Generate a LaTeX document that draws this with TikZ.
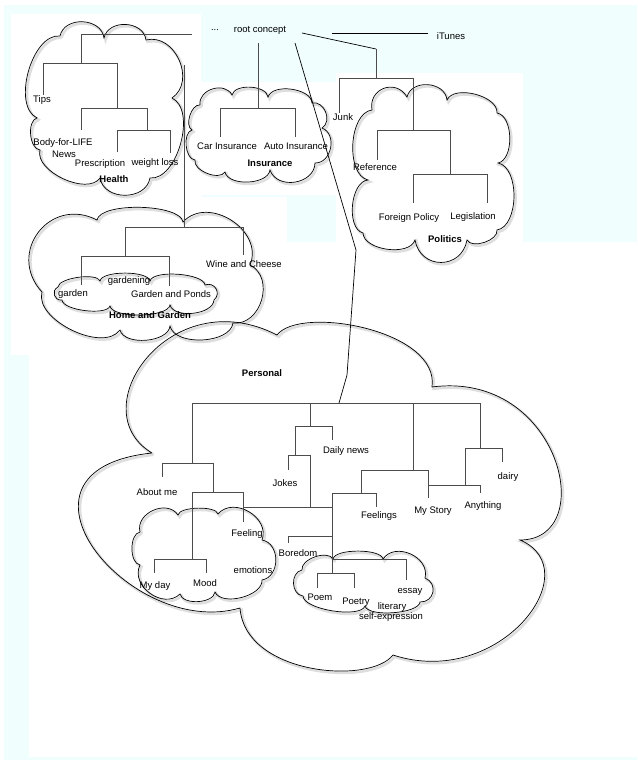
\documentclass[tikz,border=0pt]{standalone}
\usepackage{fontspec}
\setmainfont{Liberation Sans}
\definecolor{bgaz}{HTML}{F0FEFE}
\def\cHealth{(60,36) to[pb] (104,38) to[pb] (146,40) to[pb] (172,98) to[pc] (150,178) to[pb] (100,178) to[pc] (40,150) to[pc] (37,118) to[pc] (60,36)}
\def\cIns{(200,105) to[pb] (232,95) to[pc] (268,97) to[pc] (312,103) to[pb] (322,128) to[pb] (315,163) to[pb] (270,170) to[pc] (225,172) to[pc] (195,160) to[pc] (192,130) to[pc] (200,105)}
\def\cPol{(372,110) to[pa] (407,97) to[pb] (447,100) to[pc] (497,113) to[pc] (498,163) to[pc] (497,230) to[pc] (467,240) to[pa] (415,240) to[pc] (363,233) to[pc] (368,180) to[pc] (372,110)}
\def\cHG{(42,292) to[pa] (97,220) to[pd] (183,222) to[pb] (250,265) to[pb] (233,323) to[pc] (170,326) to[pc] (120,330) to[pc] (42,292)}
\def\cGard{(58,287) to[pd] (100,281) to[pd] (150,281) to[pd] (205,285) to[pa] (214,300) to[pc] (170,305) to[pd] (110,306) to[pd] (62,300) to[pa] (58,287)}
\def\cFE{(140,532) to[pb] (178,515) to[pd] (218,514) to[pb] (262,540) to[pb] (262,580) to[pc] (215,592) to[pc] (180,594) to[pb] (140,565) to[pc] (140,532)}
\def\cPoem{(302,570) to[pc] (333,559) to[pd] (383,559) to[pb] (425,578) to[pa] (420,602) to[pd] (365,606) to[pd] (303,596) to[pb] (302,570)}
\def\cPers{(152,453) .. controls (80,410) and (170,280) .. (277,335) .. controls (300,305) and (440,330) .. (432,387) .. controls (560,370) and (600,540) .. (520,540) .. controls (590,570) and (500,690) .. (393,655) .. controls (370,685) and (245,675) .. (240,608) .. controls (130,640) and (-10,470) .. (152,453)}
\begin{document}
\begin{tikzpicture}[x=1pt,y=-1pt,
  lbl/.style={font=\fontsize{9.5}{11}\selectfont, inner sep=0pt},
  blbl/.style={font=\fontsize{9.5}{11}\selectfont\bfseries, inner sep=0pt},
  tree/.style={draw=black!70, line width=0.75pt},
  link/.style={draw=black, line width=0.7pt},
  cld/.style={draw=black, line width=0.7pt},
  cshd/.style={draw=black!13, line width=2.6pt, shift={(1.6,1.8)}},
  pa/.style={bend left=80, looseness=1.5},
  pb/.style={bend left=80, looseness=1.2},
  pc/.style={bend left=80, looseness=0.85},
  pd/.style={bend left=80, looseness=0.55}]
\useasboundingbox (0,0) rectangle (637,762);
% background
\fill[white] (0,0) rectangle (637,762);
\fill[bgaz] (4,5) rectangle (637,760);
\fill[white] (11,14) rectangle (201,355);
\fill[white] (201,82) rectangle (336,195);
\fill[white] (201,197) rectangle (287,355);
\fill[white] (336,73) rectangle (523,242);
\fill[white] (287,242) rectangle (637,355);
\fill[white] (29,355) rectangle (637,757);
% cloud shadows
\draw[cshd] \cHealth;
\draw[cshd] \cIns;
\draw[cshd] \cPol;
\draw[cshd] \cHG;
\draw[cshd] \cGard;
\draw[cshd] \cPers;
\draw[cshd] \cFE;
\draw[cshd] \cPoem;
% clouds
\draw[cld] \cHealth;
\draw[cld] \cIns;
\draw[cld] \cPol;
\draw[cld] \cHG;
\draw[cld] \cGard;
\draw[cld] \cPers;
\draw[cld] \cFE;
\draw[cld] \cPoem;
% top links
\draw[tree] (192,34) -- (81,34) -- (81,63);
\draw[tree] (43,95) -- (43,63) -- (117,63) -- (117,108);
\draw[tree] (81,130) -- (81,108) -- (147,108) -- (147,130);
\draw[tree] (117,152) -- (117,130) -- (170,130) -- (170,153);
\draw[tree] (184,65) -- (184,227);
\draw[tree] (125,256) -- (125,227) -- (243,227) -- (243,255);
\draw[tree] (81,285) -- (81,256) -- (169,256) -- (169,286);
\draw[tree] (258,43) -- (258,108);
\draw[tree] (220,137) -- (220,108) -- (295,108) -- (295,137);
\draw[link] (302,33) -- (376,49);
\draw[tree] (376,49) -- (376,78);
\draw[tree] (339,113) -- (339,78) -- (413,78) -- (413,130);
\draw[tree] (377,160) -- (377,130) -- (450,130) -- (450,174);
\draw[tree] (413,203) -- (413,174) -- (487,174) -- (487,203);
\draw[link] (332,33) -- (428,33);
\draw[link] (295,43) -- (356,250) -- (347,375) -- (339,403);
% personal tree
\draw[tree] (192,403) -- (480,403);
\draw[tree] (192,403) -- (192,463);
\draw[tree] (162,477) -- (162,463) -- (213,463) -- (213,492);
\draw[tree] (192,492) -- (243,492);
\draw[tree] (192,492) -- (192,559);
\draw[tree] (154,573) -- (154,559) -- (206,559) -- (206,573);
\draw[tree] (243,492) -- (243,522);
\draw[tree] (310,403) -- (310,426);
\draw[tree] (295,455) -- (295,426) -- (332,426) -- (332,440);
\draw[tree] (288,470) -- (288,455) -- (310,455) -- (310,507);
\draw[tree] (243,507) -- (332,507);
\draw[tree] (332,493) -- (332,573);
\draw[tree] (332,493) -- (376,493) -- (376,507);
\draw[tree] (361,493) -- (361,470) -- (428,470) -- (428,498);
\draw[tree] (413,403) -- (413,470);
\draw[tree] (428,485) -- (480,485) -- (480,493);
\draw[tree] (465,485) -- (465,448) -- (502,448) -- (502,462);
\draw[tree] (480,403) -- (480,448);
\draw[tree] (288,543) -- (288,536) -- (332,536);
\draw[tree] (332,559) -- (406,559) -- (406,580);
\draw[tree] (317,588) -- (317,573) -- (354,573) -- (354,588);
% labels
\node[lbl] (dots) at (215,30) {...};
\node[lbl] (root) at (260,30) {root concept};
\node[lbl] (itunes) at (451,36) {iTunes};
\node[lbl] (tips) at (42,100) {Tips};
\node[lbl] (bfl) at (63,143) {Body-for-LIFE};
\node[lbl] (news) at (64,154) {News};
\node[lbl] (presc) at (100,164) {Prescription};
\node[lbl] (wloss) at (155,163) {weight loss};
\node[blbl] (health) at (114,179) {Health};
\node[lbl] (carins) at (227,146) {Car Insurance};
\node[lbl] (autoins) at (296,146) {Auto Insurance};
\node[blbl] (insur) at (270,163) {Insurance};
\node[lbl] (junk) at (343,117) {Junk};
\node[lbl] (ref) at (375,167) {Reference};
\node[lbl] (fpol) at (409,218) {Foreign Policy};
\node[lbl] (legis) at (473,217) {Legislation};
\node[blbl] (polit) at (445,239) {Politics};
\node[lbl] (wine) at (244,264) {Wine and Cheese};
\node[lbl] (gardening) at (129,281) {gardening};
\node[lbl] (garden) at (73,294) {garden};
\node[lbl] (gponds) at (171,294) {Garden and Ponds};
\node[blbl] (homeg) at (150,315) {Home and Garden};
\node[blbl] (personal) at (262,373) {Personal};
\node[lbl] (dnews) at (346,451) {Daily news};
\node[lbl] (jokes) at (285,483) {Jokes};
\node[lbl] (aboutme) at (157,492) {About me};
\node[lbl] (dairy) at (508,477) {dairy};
\node[lbl] (anything) at (483,506) {Anything};
\node[lbl] (mystory) at (433,511) {My Story};
\node[lbl] (feelings) at (379,516) {Feelings};
\node[lbl] (feeling) at (247,534) {Feeling};
\node[lbl] (boredom) at (298,553) {Boredom};
\node[lbl] (emotions) at (253,570) {emotions};
\node[lbl] (mood) at (205,583) {Mood};
\node[lbl] (myday) at (155,586) {My day};
\node[lbl] (essay) at (410,592) {essay};
\node[lbl] (poem) at (320,597) {Poem};
\node[lbl] (poetry) at (356,602) {Poetry};
\node[lbl] (literary) at (392,607) {literary};
\node[lbl] (selfexp) at (391,617) {self-expression};
\end{tikzpicture}
\end{document}
